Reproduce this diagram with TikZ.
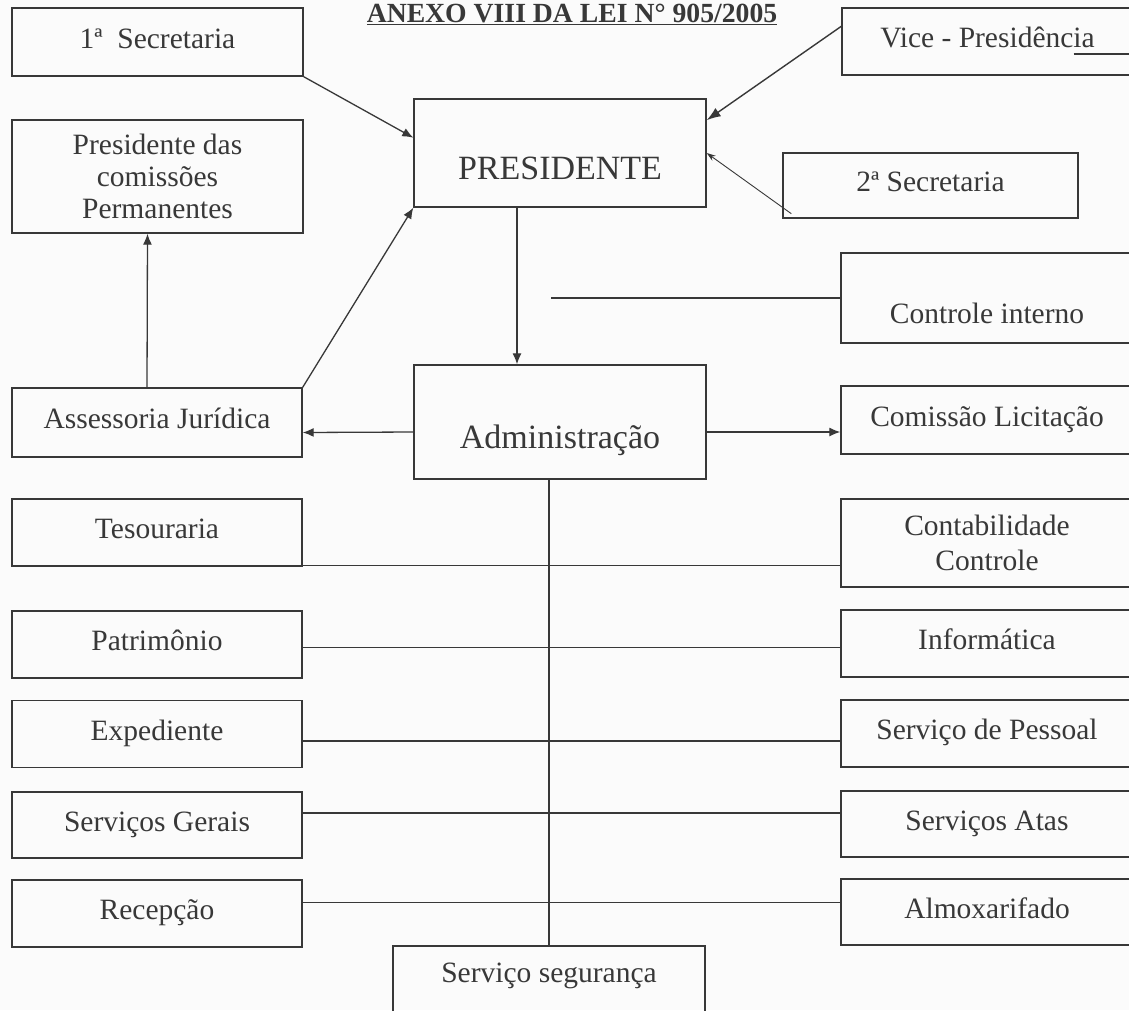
\documentclass[tikz,border=0pt]{standalone}
\usepackage{fontspec}
\setmainfont{Liberation Serif}
\usepackage{tikz}
\usetikzlibrary{arrows.meta,calc,positioning}
\definecolor{scanink}{HTML}{383838}
\definecolor{scanpaper}{HTML}{FBFBFB}
\tikzset{
  orgbox/.style={draw=scanink,line width=1.4pt,text=scanink,inner sep=0pt,align=center,
    minimum width=291pt,minimum height=67pt,font=\fontsize{29.5}{32}\selectfont},
  oneline/.style={text height=21pt,text depth=9pt},
  leftbox/.style={orgbox,oneline,minimum width=290pt},
  rightbox/.style={orgbox,oneline,minimum width=292pt},
  headbox/.style={orgbox,minimum width=292pt,text height=56pt,text depth=4pt,font=\fontsize{34}{38}\selectfont},
  link/.style={draw=scanink,line width=1.3pt},
  arr/.style={link,-{Latex[length=11pt,width=9pt]}},
}

\begin{document}
\begin{tikzpicture}[x=1pt,y=-1pt]
  \useasboundingbox (0,0) rectangle (1129,1010);
  \fill[scanpaper] (0,0) rectangle (1129,1010);
  \clip (0,0) rectangle (1129,1010);

  \node[font=\bfseries\fontsize{27.7}{30}\selectfont,text=scanink,anchor=base] (title) at (572,22) {\underline{ANEXO VIII DA LEI N° 905/2005}};

  \node[leftbox,minimum width=291pt,minimum height=68pt] (sec1) at (157.5,42) {1ª\ \ Secretaria};
  \node[orgbox,minimum height=113pt] (perm) at (157.5,176.5) {Presidente das\\comissões\\Permanentes};
  \node[headbox,minimum height=108pt] (pres) at (560,153) {PRESIDENTE};
  \node[rightbox,minimum width=291pt] (vice) at (987.5,41.5) {Vice - Presidência};
  \node[rightbox,minimum width=295pt,minimum height=65pt] (sec2) at (930.5,185.5) {2ª Secretaria};
  \node[rightbox,minimum height=90pt,text height=62pt,text depth=12pt] (ctrl) at (987,298) {Controle interno};

  \node[leftbox,minimum height=69pt] (ass) at (157,422.5) {Assessoria Jurídica};
  \node[headbox,minimum height=114pt] (adm) at (560,422) {Administração};
  \node[rightbox,minimum height=68pt] (lic) at (987,420) {Comissão Licitação};

  \node[leftbox] (tes) at (157,532.5) {Tesouraria};
  \node[leftbox] (pat) at (157,644.5) {Patrimônio};
  \node[leftbox] (exp) at (157,734) {Expediente};
  \node[leftbox,minimum height=66pt] (ger) at (157,825) {Serviços Gerais};
  \node[leftbox] (rec) at (157,913.5) {Recepção};

  \node[orgbox,minimum width=292pt,minimum height=88pt,font=\fontsize{29.5}{35}\selectfont] (cont) at (987,543) {Contabilidade\\Controle};
  \node[rightbox] (inf) at (987,643.5) {Informática};
  \node[rightbox] (pes) at (987,733.5) {Serviço de Pessoal};
  \node[rightbox,minimum height=66pt] (atas) at (987,824) {Serviços Atas};
  \node[rightbox,minimum height=66pt] (alm) at (987,912) {Almoxarifado};

  \node[orgbox,minimum width=312pt,minimum height=74pt,text height=22pt,text depth=24pt] (seg) at (549,983) {Serviço segurança};

  \draw[line width=2pt,scanink] ($(vice.south east)+(-60,-22)$) -- ($(vice.south east)+(-4,-22)$);

  \draw[arr] (sec1.south east) -- ($(pres.north west)!0.36!(pres.south west)$);
  \draw[arr,line width=1.4pt,-{Latex[length=14pt,width=10pt]}] ([yshift=-19pt]vice.north west) -- ($(pres.north east)!0.2!(pres.south east)$);
  \draw[link,line width=0.9pt,-{Stealth[length=9pt,width=6pt]}] ([xshift=9pt,yshift=5pt]sec2.south west) -- (pres.east);
  \draw[arr] (ass.north east) -- (pres.south west);
  \draw[arr] ([xshift=-10pt]ass.north) -- ([xshift=-10pt]perm.south);
  \draw[arr] ([xshift=-43pt]pres.south) -- ([xshift=-43pt]adm.north);

  \coordinate (ctrlend) at (551,298);
  \draw[link] (ctrlend) -- (ctrl.west);

  \draw[arr] ([yshift=-10pt]adm.west) -- ([yshift=-10pt]ass.east);
  \draw[arr] ([yshift=-10pt]adm.east) -- ([yshift=-12pt]lic.west);
  \draw[link] (adm.south -| seg.north) -- (seg.north);

  \draw[link] ([yshift=1pt]tes.south east) -- ([yshift=1pt]tes.south east -| cont.west);
  \draw[link] ([yshift=-3pt]pat.east) -- ([yshift=-3pt]pat.east -| inf.west);
  \draw[link] ([yshift=-7pt]exp.east) -- ([yshift=-7pt]exp.east -| pes.west);
  \draw[link] ([yshift=12pt]ger.east) -- ([yshift=12pt]ger.east -| atas.west);
  \draw[link] ([yshift=11pt]rec.east) -- ([yshift=11pt]rec.east -| alm.west);
\end{tikzpicture}
\end{document}
